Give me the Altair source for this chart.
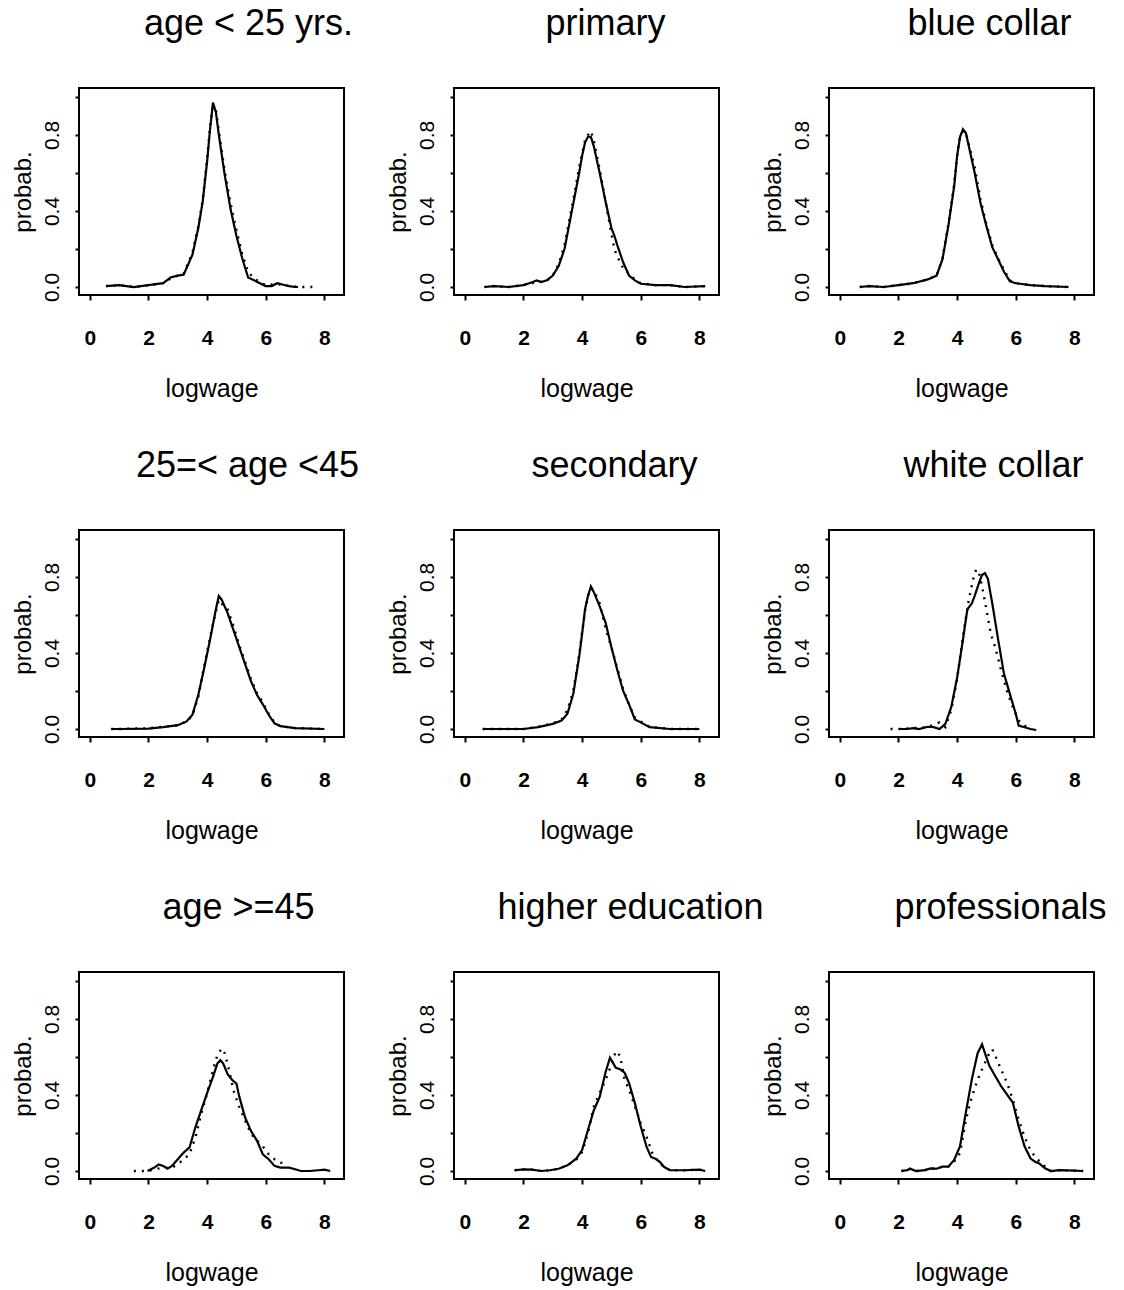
import altair as alt
import pandas as pd

TITLES = ["age < 25 yrs.", "primary", "blue collar",
          "25=< age <45", "secondary", "white collar",
          "age >=45", "higher education", "professionals"]

X_TICKS = [0, 2, 4, 6, 8]
Y_TICKS = [0.0, 0.2, 0.4, 0.6, 0.8, 1.0]

# Panel 1: age < 25 yrs.
S1_X = [0.55, 1.0, 1.5, 2.0, 2.5, 2.75, 3.0, 3.2, 3.5, 3.7, 3.85, 4.0, 4.1, 4.2, 4.3, 4.4, 4.6, 4.8, 5.0, 5.2, 5.4, 5.6, 5.8, 6.0, 6.2, 6.4, 6.6, 6.8, 7.0, 7.1]
S1_Y = [0.005, 0.01, 0.0, 0.01, 0.02, 0.05, 0.06, 0.065, 0.17, 0.31, 0.45, 0.66, 0.83, 0.97, 0.92, 0.80, 0.59, 0.41, 0.27, 0.15, 0.05, 0.035, 0.02, 0.005, 0.005, 0.02, 0.012, 0.005, 0.0, 0.0]
D1_X = [0.55, 1.0, 1.5, 2.0, 2.5, 2.75, 3.0, 3.2, 3.5, 3.7, 3.85, 4.0, 4.1, 4.2, 4.3, 4.4, 4.6, 4.8, 5.0, 5.2, 5.4, 5.6, 5.8, 6.0, 6.4, 6.8, 7.2, 7.7]
D1_Y = [0.005, 0.01, 0.0, 0.01, 0.02, 0.045, 0.06, 0.07, 0.18, 0.32, 0.46, 0.67, 0.84, 0.95, 0.93, 0.82, 0.61, 0.44, 0.30, 0.17, 0.08, 0.045, 0.025, 0.01, 0.015, 0.005, 0.0, 0.0]

# Panel 2: primary
S2_X = [0.67, 1.0, 1.5, 2.0, 2.3, 2.45, 2.6, 2.8, 3.0, 3.2, 3.4, 3.6, 3.75, 3.9, 4.0, 4.1, 4.2, 4.3, 4.4, 4.6, 4.8, 5.0, 5.1, 5.2, 5.4, 5.6, 5.8, 6.0, 6.5, 7.0, 7.5, 8.2]
S2_Y = [0.0, 0.005, 0.0, 0.01, 0.025, 0.035, 0.026, 0.035, 0.06, 0.11, 0.2, 0.36, 0.48, 0.60, 0.69, 0.76, 0.79, 0.79, 0.74, 0.60, 0.45, 0.31, 0.27, 0.22, 0.13, 0.06, 0.035, 0.017, 0.01, 0.01, 0.0, 0.005]
D2_X = [0.67, 1.0, 1.5, 2.0, 2.3, 2.45, 2.6, 2.8, 3.0, 3.2, 3.4, 3.6, 3.75, 3.9, 4.0, 4.1, 4.2, 4.3, 4.4, 4.6, 4.8, 5.0, 5.1, 5.2, 5.4, 5.6, 5.8, 6.0, 6.5, 7.0, 7.5, 8.2]
D2_Y = [0.0, 0.005, 0.0, 0.01, 0.02, 0.03, 0.028, 0.035, 0.06, 0.12, 0.22, 0.38, 0.50, 0.63, 0.70, 0.77, 0.80, 0.82, 0.77, 0.62, 0.45, 0.28, 0.20, 0.16, 0.10, 0.07, 0.04, 0.02, 0.01, 0.01, 0.0, 0.005]

# Panel 3: blue collar
S3_X = [0.68, 1.0, 1.5, 2.0, 2.5, 3.0, 3.3, 3.5, 3.7, 3.9, 4.0, 4.1, 4.2, 4.3, 4.4, 4.6, 4.8, 5.0, 5.2, 5.4, 5.6, 5.8, 6.0, 6.5, 7.0, 7.8]
S3_Y = [0.0, 0.005, 0.0, 0.01, 0.02, 0.04, 0.06, 0.145, 0.32, 0.53, 0.69, 0.79, 0.83, 0.81, 0.74, 0.60, 0.44, 0.32, 0.21, 0.145, 0.08, 0.03, 0.02, 0.01, 0.005, 0.0]
D3_X = [0.68, 1.0, 1.5, 2.0, 2.5, 3.0, 3.3, 3.5, 3.7, 3.9, 4.0, 4.1, 4.2, 4.3, 4.4, 4.6, 4.8, 5.0, 5.2, 5.4, 5.6, 5.8, 6.0, 6.5, 7.0, 7.8]
D3_Y = [0.0, 0.005, 0.0, 0.01, 0.02, 0.04, 0.06, 0.15, 0.33, 0.54, 0.69, 0.79, 0.82, 0.81, 0.75, 0.63, 0.46, 0.33, 0.22, 0.15, 0.09, 0.035, 0.02, 0.01, 0.005, 0.0]

# Panel 4: 25=< age <45
S4_X = [0.73, 1.0, 2.0, 2.5, 3.0, 3.3, 3.5, 3.7, 3.9, 4.1, 4.3, 4.4, 4.5, 4.7, 4.9, 5.1, 5.3, 5.5, 5.7, 5.9, 6.1, 6.3, 6.5, 7.0, 8.0]
S4_Y = [0.0, 0.0, 0.002, 0.01, 0.02, 0.04, 0.075, 0.18, 0.32, 0.47, 0.63, 0.70, 0.68, 0.61, 0.52, 0.43, 0.34, 0.25, 0.18, 0.13, 0.075, 0.03, 0.015, 0.005, 0.0]
D4_X = [0.73, 1.0, 2.0, 2.5, 3.0, 3.3, 3.5, 3.7, 3.9, 4.1, 4.3, 4.4, 4.5, 4.7, 4.9, 5.1, 5.3, 5.5, 5.7, 5.9, 6.1, 6.3, 6.5, 7.0, 8.0]
D4_Y = [0.0, 0.0, 0.004, 0.012, 0.02, 0.04, 0.07, 0.17, 0.33, 0.48, 0.62, 0.68, 0.66, 0.63, 0.54, 0.44, 0.35, 0.26, 0.19, 0.14, 0.08, 0.035, 0.015, 0.005, 0.0]

# Panel 5: secondary
S5_X = [0.61, 1.0, 2.0, 2.5, 3.0, 3.3, 3.5, 3.7, 3.9, 4.0, 4.1, 4.2, 4.3, 4.4, 4.6, 4.8, 5.0, 5.2, 5.4, 5.6, 5.8, 6.0, 6.3, 7.0, 8.0]
S5_Y = [0.0, 0.0, 0.0, 0.01, 0.027, 0.045, 0.08, 0.185, 0.38, 0.50, 0.63, 0.70, 0.75, 0.72, 0.645, 0.56, 0.43, 0.31, 0.20, 0.13, 0.05, 0.035, 0.01, 0.0, 0.0]
D5_X = [0.61, 1.0, 2.0, 2.5, 3.0, 3.3, 3.5, 3.7, 3.9, 4.0, 4.1, 4.2, 4.3, 4.4, 4.6, 4.8, 5.0, 5.2, 5.4, 5.6, 5.8, 6.0, 6.3, 7.0, 8.0]
D5_Y = [0.0, 0.0, 0.0, 0.012, 0.03, 0.05, 0.10, 0.20, 0.39, 0.51, 0.62, 0.70, 0.74, 0.73, 0.66, 0.53, 0.43, 0.32, 0.21, 0.13, 0.06, 0.04, 0.012, 0.0, 0.0]

# Panel 6: white collar
S6_X = [2.0, 2.3, 2.5, 2.7, 3.0, 3.2, 3.4, 3.6, 3.8, 4.0, 4.2, 4.35, 4.5, 4.6, 4.75, 4.85, 4.95, 5.05, 5.2, 5.4, 5.6, 5.8, 6.0, 6.1, 6.3, 6.5, 6.7]
S6_Y = [0.0, 0.0, 0.005, 0.0, 0.012, 0.01, 0.0, 0.027, 0.115, 0.27, 0.47, 0.63, 0.66, 0.70, 0.77, 0.81, 0.82, 0.79, 0.66, 0.47, 0.29, 0.185, 0.08, 0.018, 0.009, 0.0, -0.005]
D6_X = [1.73, 2.0, 2.5, 3.0, 3.4, 3.6, 3.8, 4.0, 4.2, 4.4, 4.55, 4.65, 4.75, 4.85, 5.0, 5.15, 5.3, 5.5, 5.7, 5.9, 6.1, 6.3, 6.5]
D6_Y = [0.0, 0.0, 0.005, 0.01, 0.035, 0.01, 0.10, 0.26, 0.49, 0.68, 0.79, 0.84, 0.82, 0.75, 0.63, 0.50, 0.43, 0.31, 0.20, 0.115, 0.045, 0.018, 0.0]

# Panel 7: age >=45
S7_X = [1.97, 2.2, 2.35, 2.5, 2.65, 2.8, 3.0, 3.2, 3.4, 3.6, 3.8, 4.0, 4.2, 4.35, 4.45, 4.55, 4.7, 4.85, 5.0, 5.1, 5.3, 5.5, 5.7, 5.9, 6.1, 6.3, 6.5, 6.8, 7.0, 7.2, 7.5, 7.8, 8.0, 8.2]
S7_Y = [0.0, 0.018, 0.035, 0.027, 0.012, 0.027, 0.062, 0.097, 0.124, 0.23, 0.32, 0.41, 0.495, 0.565, 0.583, 0.565, 0.51, 0.48, 0.46, 0.39, 0.28, 0.21, 0.16, 0.088, 0.062, 0.027, 0.018, 0.018, 0.009, 0.0, 0.0, 0.004, 0.007, 0.0]
D7_X = [1.5, 1.8, 2.0, 2.3, 2.5, 2.8, 3.0, 3.2, 3.4, 3.6, 3.8, 4.0, 4.2, 4.35, 4.5, 4.6, 4.75, 4.9, 5.1, 5.3, 5.5, 5.7, 5.9, 6.1, 6.3, 6.5, 6.75]
D7_Y = [0.0, 0.0, 0.0, 0.012, 0.018, 0.018, 0.035, 0.062, 0.088, 0.177, 0.30, 0.41, 0.53, 0.61, 0.645, 0.62, 0.53, 0.424, 0.336, 0.265, 0.195, 0.16, 0.13, 0.088, 0.062, 0.044, 0.04]

# Panel 8: higher education
S8_X = [1.7, 2.0, 2.3, 2.6, 2.9, 3.2, 3.5, 3.8, 4.0, 4.2, 4.4, 4.6, 4.8, 4.95, 5.05, 5.15, 5.3, 5.45, 5.6, 5.8, 6.0, 6.2, 6.35, 6.5, 6.65, 6.8, 7.0, 7.5, 8.0, 8.2]
S8_Y = [0.004, 0.009, 0.007, 0.0, 0.004, 0.012, 0.03, 0.065, 0.11, 0.216, 0.32, 0.39, 0.52, 0.596, 0.57, 0.543, 0.535, 0.517, 0.464, 0.357, 0.234, 0.127, 0.074, 0.065, 0.048, 0.021, 0.004, 0.004, 0.007, 0.0]
D8_X = [1.7, 2.0, 2.3, 2.6, 2.9, 3.2, 3.5, 3.8, 4.0, 4.2, 4.4, 4.6, 4.8, 5.0, 5.15, 5.3, 5.45, 5.6, 5.8, 6.0, 6.2, 6.4, 6.6, 6.8, 7.0, 7.5, 8.0, 8.2]
D8_Y = [0.004, 0.009, 0.007, 0.0, 0.004, 0.012, 0.03, 0.06, 0.10, 0.20, 0.34, 0.41, 0.48, 0.56, 0.63, 0.605, 0.48, 0.43, 0.34, 0.25, 0.18, 0.092, 0.048, 0.02, 0.004, 0.004, 0.007, 0.0]

# Panel 9: professionals
S9_X = [2.1, 2.3, 2.4, 2.6, 2.9, 3.1, 3.3, 3.5, 3.7, 3.9, 4.1, 4.3, 4.5, 4.7, 4.85, 4.95, 5.1, 5.3, 5.5, 5.7, 5.9, 6.1, 6.3, 6.5, 6.65, 6.8, 7.0, 7.2, 7.5, 8.0, 8.3]
S9_Y = [0.0, 0.005, 0.012, 0.0, 0.005, 0.014, 0.012, 0.023, 0.023, 0.058, 0.13, 0.31, 0.48, 0.62, 0.666, 0.62, 0.553, 0.50, 0.447, 0.403, 0.36, 0.235, 0.13, 0.067, 0.05, 0.04, 0.014, 0.0, 0.005, 0.002, 0.0]
D9_X = [2.1, 2.3, 2.4, 2.6, 2.9, 3.1, 3.3, 3.5, 3.7, 3.9, 4.1, 4.3, 4.5, 4.7, 4.9, 5.1, 5.2, 5.35, 5.5, 5.7, 5.9, 6.1, 6.3, 6.5, 6.7, 6.9, 7.0, 7.2, 7.5, 8.0, 8.3]
D9_Y = [0.0, 0.005, 0.012, 0.0, 0.005, 0.014, 0.012, 0.023, 0.023, 0.05, 0.094, 0.27, 0.39, 0.48, 0.553, 0.62, 0.64, 0.59, 0.535, 0.465, 0.376, 0.27, 0.18, 0.11, 0.067, 0.04, 0.023, 0.0, 0.005, 0.002, 0.0]

SOLID = [(S1_X, S1_Y), (S2_X, S2_Y), (S3_X, S3_Y), (S4_X, S4_Y), (S5_X, S5_Y),
         (S6_X, S6_Y), (S7_X, S7_Y), (S8_X, S8_Y), (S9_X, S9_Y)]
DOTTED = [(D1_X, D1_Y), (D2_X, D2_Y), (D3_X, D3_Y), (D4_X, D4_Y), (D5_X, D5_Y),
          (D6_X, D6_Y), (D7_X, D7_Y), (D8_X, D8_Y), (D9_X, D9_Y)]

# horizontal offsets of the panel titles (layout)
TITLE_DX = [37, 19, 28, 36, 28, 32, 27, 44, 39]

FONT = "Liberation Sans"


def panel(i):
    sx, sy = SOLID[i]
    dx_, dy_ = DOTTED[i]
    df_s = pd.DataFrame({"logwage": sx, "probab": sy})
    df_d = pd.DataFrame({"logwage": dx_, "probab": dy_})
    x = alt.X("logwage:Q",
              scale=alt.Scale(domain=[-0.37, 8.67], nice=False, zero=False),
              axis=alt.Axis(values=X_TICKS, title="logwage", grid=False, domain=False,
                            tickSize=5, tickWidth=2, tickColor="black",
                            labelFontSize=21, labelFontWeight="bold", labelColor="black",
                            labelPadding=27, labelFont=FONT,
                            titleFontSize=25, titleFontWeight="normal", titleColor="black",
                            titlePadding=28, titleFont=FONT))
    y = alt.Y("probab:Q",
              scale=alt.Scale(domain=[-0.042, 1.047], nice=False, zero=False),
              axis=alt.Axis(values=Y_TICKS, title="probab.", grid=False, domain=False,
                            tickSize=4, tickWidth=2, tickColor="black",
                            labelExpr="(abs(datum.value) < 0.001 || abs(datum.value - 0.4) < 0.001 || abs(datum.value - 0.8) < 0.001) ? format(datum.value, '.1f') : ''",
                            labelAngle=270, labelAlign="center", labelBaseline="bottom",
                            labelFontSize=21, labelColor="black", labelPadding=13, labelFont=FONT,
                            titleFontSize=24, titleFontWeight="normal", titleColor="black",
                            titlePadding=6, titleFont=FONT))
    solid = alt.Chart(df_s).mark_line(color="black", strokeWidth=2.2).encode(x=x, y=y)
    dotted = alt.Chart(df_d).mark_line(color="black", strokeWidth=2.4,
                                       strokeDash=[2, 6]).encode(x=x, y=y)
    return alt.layer(dotted, solid).properties(
        width=265, height=207,
        title=alt.TitleParams(TITLES[i], fontSize=36, fontWeight="normal", font=FONT,
                              color="black", anchor="middle", dx=TITLE_DX[i], offset=45))


chart = alt.concat(*[panel(i) for i in range(9)], columns=3,
                   spacing={"row": 235, "column": 110}, bounds="flush").properties(
    padding={"left": 10, "top": 5, "right": 5, "bottom": 5}
).configure(background="white").configure_view(stroke="black", strokeWidth=2)

chart.save("out.html", embed_options={"renderer": "svg", "actions": False})
